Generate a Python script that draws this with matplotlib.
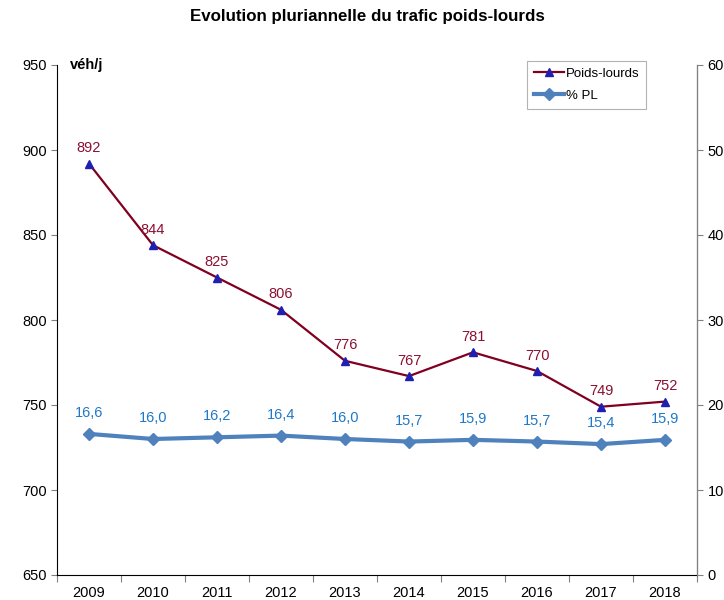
import matplotlib
matplotlib.use("Agg")
import matplotlib.pyplot as plt

years = ["2009", "2010", "2011", "2012", "2013", "2014", "2015", "2016", "2017", "2018"]
pl = [892, 844, 825, 806, 776, 767, 781, 770, 749, 752]
pct = [16.6, 16.0, 16.2, 16.4, 16.0, 15.7, 15.9, 15.7, 15.4, 15.9]

plt.rcParams['font.family'] = ['Liberation Sans', 'DejaVu Sans']

fig = plt.figure(figsize=(7.24, 6.0), dpi=100)
ax = fig.add_axes([57/724, 1-575/600, 640/724, 510/600])
ax2 = ax.twinx()

x = list(range(len(years)))
red = '#8B1030'
blue = '#4F81BD'
lblblue = '#1F78C8'

l1, = ax.plot(x, pl, color='#800020', lw=1.6, marker='^', ms=6,
              markerfacecolor='#2020B0', markeredgecolor='#2020B0', label='Poids-lourds', zorder=3)
l2, = ax2.plot(x, pct, color=blue, lw=3, marker='D', ms=6,
               markerfacecolor=blue, markeredgecolor=blue, label='% PL', zorder=3)

for xi, v in zip(x, pl):
    ax.annotate(str(v), (xi, v), xytext=(0, 6), textcoords='offset points',
                ha='center', va='bottom', color=red, fontsize=10.5)
for xi, v in zip(x, pct):
    ax2.annotate(f"{v:.1f}".replace('.', ','), (xi, v), xytext=(0, 10), textcoords='offset points',
                 ha='center', va='bottom', color=lblblue, fontsize=10.5)

ax.set_xlim(-0.5, len(years) - 0.5)
ax.set_ylim(650, 950)
ax.set_yticks(range(650, 951, 50))
ax2.set_ylim(0, 60)
ax2.set_yticks(range(0, 61, 10))

ax.set_xticks([i - 0.5 for i in range(len(years) + 1)])
ax.set_xticklabels([])
ax.set_xticks(x, minor=True)
ax.set_xticklabels(years, minor=True, fontsize=10.5)
ax.tick_params(axis='x', which='major', length=5, direction='out', color='#808080')
ax.tick_params(axis='x', which='minor', length=0, pad=8)
ax.tick_params(axis='y', labelsize=10.5, length=4, direction='out', color='#808080')
ax2.tick_params(axis='y', labelsize=10.5, length=4, direction='out', color='#808080')

ax.spines['top'].set_visible(False)
ax2.spines['top'].set_visible(False)
ax.spines['left'].set_color('black')
ax.spines['bottom'].set_color('black')
ax2.spines['right'].set_color('#808080')
ax2.spines['left'].set_visible(False)
ax2.spines['bottom'].set_visible(False)

fig.text(70/724, 1-65/600, 'véh/j', fontsize=10.5, fontweight='bold', va='center', ha='left')
fig.text(367/724, 1-16/600, 'Evolution pluriannelle du trafic poids-lourds', fontsize=12.2,
         fontweight='bold', ha='center', va='center')

leg = fig.legend(handles=[l1, l2], loc='upper left', bbox_to_anchor=(527/724, 1-61/600),
                 borderaxespad=0, frameon=True, fancybox=False, edgecolor='#A0A0A0', fontsize=9.5,
                 handlelength=2.3, borderpad=0.5, labelspacing=0.75, handletextpad=0.15)
leg.get_frame().set_linewidth(0.8)

fig.savefig('out.png', dpi=100)
